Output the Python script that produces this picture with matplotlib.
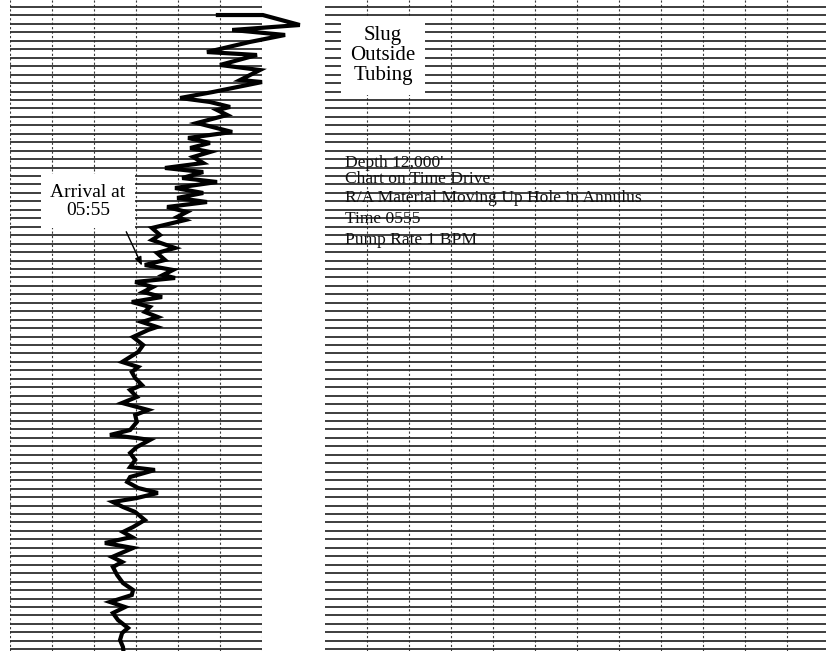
import matplotlib
matplotlib.use("Agg")
import matplotlib.pyplot as plt

# ---- data ----
# left track: trace position in chart divisions (0..6) vs time in chart lines (0 = top)
trace_t = [0.95, 0.95, 2.13, 2.72, 3.31, 4.14, 5.33, 5.68, 6.86, 7.46, 8.64, 8.88,
           10.06, 10.77, 11.24, 11.83, 12.19, 12.78, 13.73, 14.79, 15.50, 16.09, 16.69,
           17.16, 17.75, 18.46, 19.05, 19.53, 20.24, 20.71, 21.42, 22.01, 22.60, 23.08,
           23.67, 24.26, 24.85, 25.21, 26.15, 26.98, 27.57, 28.52, 29.11, 29.94, 30.53,
           31.12, 31.72, 32.07, 32.54, 33.14, 33.73, 34.32, 34.91, 35.50, 36.09, 36.69,
           37.28, 37.87, 38.22, 39.05, 40.00, 40.83, 42.01, 42.60, 43.20, 43.91, 44.73,
           45.33, 46.15, 46.86, 47.69, 48.28, 49.11, 50.06, 50.65, 51.01, 51.24, 52.07,
           52.78, 53.61, 54.44, 54.79, 55.62, 56.21, 56.92, 57.51, 58.11, 58.58, 59.17,
           59.76, 60.71, 61.54, 62.13, 62.72, 63.43, 64.02, 65.09, 65.68, 66.27, 67.22,
           68.17, 68.99, 69.59, 70.41, 71.01, 71.72, 72.54, 73.49, 74.08, 74.91, 75.74, 76.20]
trace_x = [4.95, 6.02, 6.90, 5.29, 6.55, 5.71, 4.69, 5.88, 5.00, 5.95, 5.48, 6.00,
           4.83, 4.05, 4.76, 5.24, 4.93, 5.17, 4.45, 5.29, 4.24, 4.76, 4.29,
           4.76, 4.36, 4.60, 3.69, 4.60, 4.10, 4.93, 3.93, 4.60, 3.98, 4.69,
           3.74, 4.21, 3.98, 4.17, 3.38, 3.57, 3.38, 3.93, 3.50, 3.69, 3.21,
           3.88, 3.64, 3.93, 2.98, 3.40, 3.17, 3.62, 2.90, 3.33, 3.21, 3.52,
           3.14, 3.50, 3.29, 2.93, 3.17, 3.05, 2.67, 3.05, 2.90, 2.98, 3.14,
           2.86, 3.02, 2.67, 3.29, 2.98, 3.02, 2.86, 2.38, 3.02, 3.33, 3.02,
           2.86, 2.98, 2.86, 3.45, 2.86, 2.79, 3.05, 3.52, 3.02, 2.45, 2.69,
           2.98, 3.21, 2.93, 2.69, 2.90, 2.26, 2.93, 2.43, 2.67, 2.45, 2.55,
           2.69, 2.93, 2.90, 2.38, 2.74, 2.45, 2.57, 2.81, 2.67, 2.62, 2.69, 2.70]

n_lines = 77            # horizontal chart lines
left_divs = 6           # vertical divisions, left track
right_divs = 11         # vertical divisions, right track

arrival_label = "Arrival at\n05:55"
slug_label = ["Slug", "Outside", "Tubing"]
notes = ["Depth 12,000'", "Chart on Time Drive",
         "R/A Material Moving Up Hole in Annulus", "Time 0555", "Pump Rate 1 BPM"]

# ---- figure ----
W, H = 826, 651
fig = plt.figure(figsize=(W / 100, H / 100), dpi=100)
fig.patch.set_facecolor("white")

px = 8.45  # pixels per chart line
ylim = ((H - 7) / px, -7 / px)

axL = fig.add_axes([10 / W, 0, 252 / W, 1])
axR = fig.add_axes([325 / W, 0, 501 / W, 1])

for ax, nd, xmax in [(axL, left_divs, left_divs), (axR, right_divs, 501 / 42)]:
    ax.set_xlim(0, xmax)
    ax.set_ylim(*ylim)
    ax.set_yticks(range(n_lines))
    ax.set_xticks(range(0 if ax is axL else 1, nd + 1))
    ax.yaxis.grid(True, color="#262626", lw=1.25, linestyle="-")
    ax.xaxis.grid(True, color="#3a3a3a", lw=0.8, linestyle=(0, (2, 2)))
    ax.tick_params(left=False, bottom=False, labelleft=False, labelbottom=False)
    for s in ax.spines.values():
        s.set_visible(False)
    ax.set_axisbelow(True)

serif = ["Liberation Serif", "DejaVu Serif"]

# trace
axL.plot(trace_x, trace_t, color="black", lw=3.0, solid_joinstyle="miter",
         clip_on=False, zorder=3)

# arrival annotation
axL.text(1.86, 23.0, arrival_label, ha="center", va="center", fontsize=14,
         family=serif, linespacing=1.05, zorder=4,
         bbox=dict(boxstyle="square,pad=0.5", fc="white", ec="none"))
axL.annotate("", xy=(3.17, 30.9), xytext=(2.74, 26.3),
             arrowprops=dict(arrowstyle="-|>,head_length=0.5,head_width=0.2",
                             color="black", lw=1.0), zorder=4)

# slug box
axR.text(1.38, 5.75, "\n".join(slug_label), ha="center", va="center", fontsize=15,
         family=serif, linespacing=1.08, zorder=4,
         bbox=dict(boxstyle="square,pad=0.45", fc="white", ec="none"))

# notes
note_y = [18.46, 20.36, 22.6, 25.09, 27.57]
for t, y in zip(notes, note_y):
    axR.text(0.48, y, t, ha="left", va="center", fontsize=12.6, family=serif,
             color="#111111", zorder=4)

fig.savefig("out.png", dpi=100, facecolor="white")
